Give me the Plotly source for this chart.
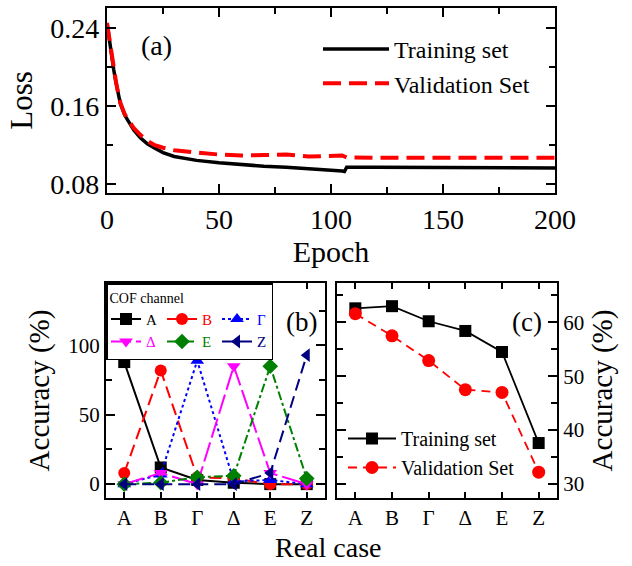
import plotly.graph_objects as go

# ---- (a) loss curves ----
epochs = [0, 1, 2, 3, 4, 5, 6, 8, 10, 12, 15, 18, 21, 25, 30, 35, 40, 50, 60, 70,
          80, 90, 100, 105, 106, 107, 120, 140, 170, 200]
loss_train = [0.245, 0.228, 0.212, 0.197, 0.184, 0.172, 0.162, 0.150, 0.142, 0.135,
              0.127, 0.121, 0.117, 0.112, 0.108, 0.106, 0.104, 0.1015, 0.0995, 0.098,
              0.097, 0.0955, 0.0945, 0.093, 0.0925, 0.097, 0.097, 0.0968, 0.0965, 0.0962]
loss_val = [0.245, 0.229, 0.213, 0.198, 0.185, 0.173, 0.163, 0.151, 0.143, 0.137,
            0.130, 0.124, 0.120, 0.117, 0.1145, 0.113, 0.112, 0.110, 0.109, 0.1095,
            0.110, 0.108, 0.1085, 0.109, 0.108, 0.107, 0.1066, 0.1066, 0.1066, 0.1066]

# ---- (b) per-channel accuracy ----
cases = ["Α", "Β", "Γ", "Δ", "Ε", "Ζ"]
acc_A = [88, 12, 3, 1, 0, 0]
acc_B = [8, 82, 5, 4, 0, 0]
acc_G = [0, 7, 89, 2, 3, 0]
acc_D = [0, 8, 0, 85, 8, 0]
acc_E = [0, 1, 5, 6, 85, 4]
acc_Z = [0, 0, 0, 0, 8, 93]

# ---- (c) overall accuracy ----
acc_train = [62.6, 63.0, 60.2, 58.4, 54.5, 37.6]
acc_val = [61.6, 57.5, 52.9, 47.5, 47.0, 32.2]

FONT = "Liberation Serif"
W, H = 632, 566

fig = go.Figure()

# panel (a)
fig.add_trace(go.Scatter(x=epochs, y=loss_train, mode="lines", name="Training set",
                         line=dict(color="black", width=3.5),
                         xaxis="x", yaxis="y", legend="legend"))
fig.add_trace(go.Scatter(x=epochs, y=loss_val, mode="lines", name="Validation Set",
                         line=dict(color="#ff0000", width=4, dash="18px,8px"),
                         xaxis="x", yaxis="y", legend="legend"))

# panel (b): one trace per COF channel; legend groups make a 3-column legend
chan = [
    ("A", acc_A, "black", "solid", "square", "g1"),
    ("<span style='color:#ff0000'>Β</span>", acc_B, "#ff0000", "12px,6px", "circle", "g2"),
    ("<span style='color:#0000ff'>Γ</span>", acc_G, "#0000ff", "dot", "triangle-up", "g3"),
    ("<span style='color:#ff00ff'>Δ</span>", acc_D, "#ff00ff", "20px,5px", "triangle-down", "g1"),
    ("<span style='color:#008000'>Ε</span>", acc_E, "#008000", "dashdot", "diamond", "g2"),
    ("<span style='color:#000080'>Ζ</span>", acc_Z, "#000080", "12px,6px", "triangle-left", "g3"),
]
for name, vals, col, dash, sym, grp in chan:
    fig.add_trace(go.Scatter(x=cases, y=vals, mode="lines+markers", name=name,
                             line=dict(color=col, width=2, dash=dash),
                             marker=dict(color=col, symbol=sym, size=12),
                             legendgroup=grp,
                             xaxis="x2", yaxis="y2", legend="legend2"))

# panel (c)
fig.add_trace(go.Scatter(x=cases, y=acc_train, mode="lines+markers", name="Training set",
                         line=dict(color="black", width=1.8),
                         marker=dict(color="black", symbol="square", size=12),
                         xaxis="x3", yaxis="y3", legend="legend3"))
fig.add_trace(go.Scatter(x=cases, y=acc_val, mode="lines+markers", name="Validation Set",
                         line=dict(color="#ff0000", width=1.8, dash="9px,6px"),
                         marker=dict(color="#ff0000", symbol="circle", size=13),
                         xaxis="x3", yaxis="y3", legend="legend3"))


def frame(**kw):
    base = dict(showline=True, linecolor="black", linewidth=2.2, mirror="allticks",
                ticks="inside", ticklen=9, tickwidth=2, tickcolor="black",
                showgrid=False, zeroline=False, automargin=False,
                tickfont=dict(family=FONT, size=21, color="black"))
    base.update(kw)
    return base


def label(text, x, y, size):
    return dict(text=text, x=x / W, y=1 - y / H, xref="paper", yref="paper",
                xanchor="center", yanchor="middle", showarrow=False,
                font=dict(family=FONT, size=size, color="black"))


MINOR = dict(ticks="inside", ticklen=6, tickwidth=2, tickcolor="black")
dom_a = [1 - 193 / H, 1 - 8 / H]
dom_bc = [1 - 498 / H, 1 - 283 / H]

fig.update_layout(
    width=W, height=H,
    margin=dict(l=0, r=0, t=0, b=0, autoexpand=False),
    paper_bgcolor="white", plot_bgcolor="white",
    font=dict(family=FONT, color="black"),
    xaxis=frame(domain=[107 / W, 555 / W], range=[0, 200], tickvals=[0, 50, 100, 150, 200],
                minor=dict(MINOR, dtick=25),
                tickfont=dict(family=FONT, size=28, color="black"),
                title=dict(text="Epoch", font=dict(family=FONT, size=30), standoff=4),
                anchor="y"),
    yaxis=frame(domain=dom_a, range=[0.0705, 0.2605], tickvals=[0.08, 0.16, 0.24],
                ticktext=["0.08", "0.16", "0.24"],
                minor=dict(MINOR, tickvals=[0.12, 0.20]),
                tickfont=dict(family=FONT, size=28, color="black"),
                title=dict(text="Loss", font=dict(family=FONT, size=31), standoff=8),
                anchor="x"),
    xaxis2=frame(domain=[106 / W, 325 / W], range=[-0.5, 5.5], type="category",
                 ticklen=6, anchor="y2"),
    yaxis2=frame(domain=dom_bc, range=[-10, 145], tickvals=[0, 50, 100],
                 minor=dict(MINOR, tickvals=[25, 75, 125]),
                 title=dict(text="Accuracy (%)", font=dict(family=FONT, size=29), standoff=10),
                 anchor="x2"),
    xaxis3=frame(domain=[337 / W, 557 / W], range=[-0.5, 5.5], type="category",
                 ticklen=6, anchor="y3"),
    yaxis3=frame(domain=dom_bc, range=[27.4, 67.3], tickvals=[30, 40, 50, 60], side="right",
                 minor=dict(MINOR, tickvals=[35, 45, 55, 65]),
                 title=dict(text="Accuracy (%)", font=dict(family=FONT, size=29), standoff=8),
                 anchor="x3"),
    legend=dict(x=318 / W, y=1 - 27 / H, xanchor="left", yanchor="top",
                bgcolor="rgba(0,0,0,0)", borderwidth=0, itemwidth=66,
                font=dict(family=FONT, size=24, color="black"), tracegroupgap=0),
    legend2=dict(x=106 / W, y=1 - 283 / H, xanchor="left", yanchor="top",
                 orientation="h", traceorder="grouped", bgcolor="white",
                 bordercolor="black", borderwidth=1.5, itemwidth=30, tracegroupgap=0,
                 title=dict(text="COF channel", side="top",
                            font=dict(family=FONT, size=14, color="black")),
                 font=dict(family=FONT, size=15, color="black")),
    legend3=dict(x=343 / W, y=1 - 419 / H, xanchor="left", yanchor="top",
                 bgcolor="rgba(0,0,0,0)", borderwidth=0, itemwidth=48,
                 font=dict(family=FONT, size=20, color="black"), tracegroupgap=0),
    annotations=[
        label("(a)", 156, 45, 28),
        label("(b)", 301, 322, 27),
        label("(c)", 527, 322, 27),
        label("Real case", 328, 547, 28),
    ],
)

fig.write_html("out.html")
